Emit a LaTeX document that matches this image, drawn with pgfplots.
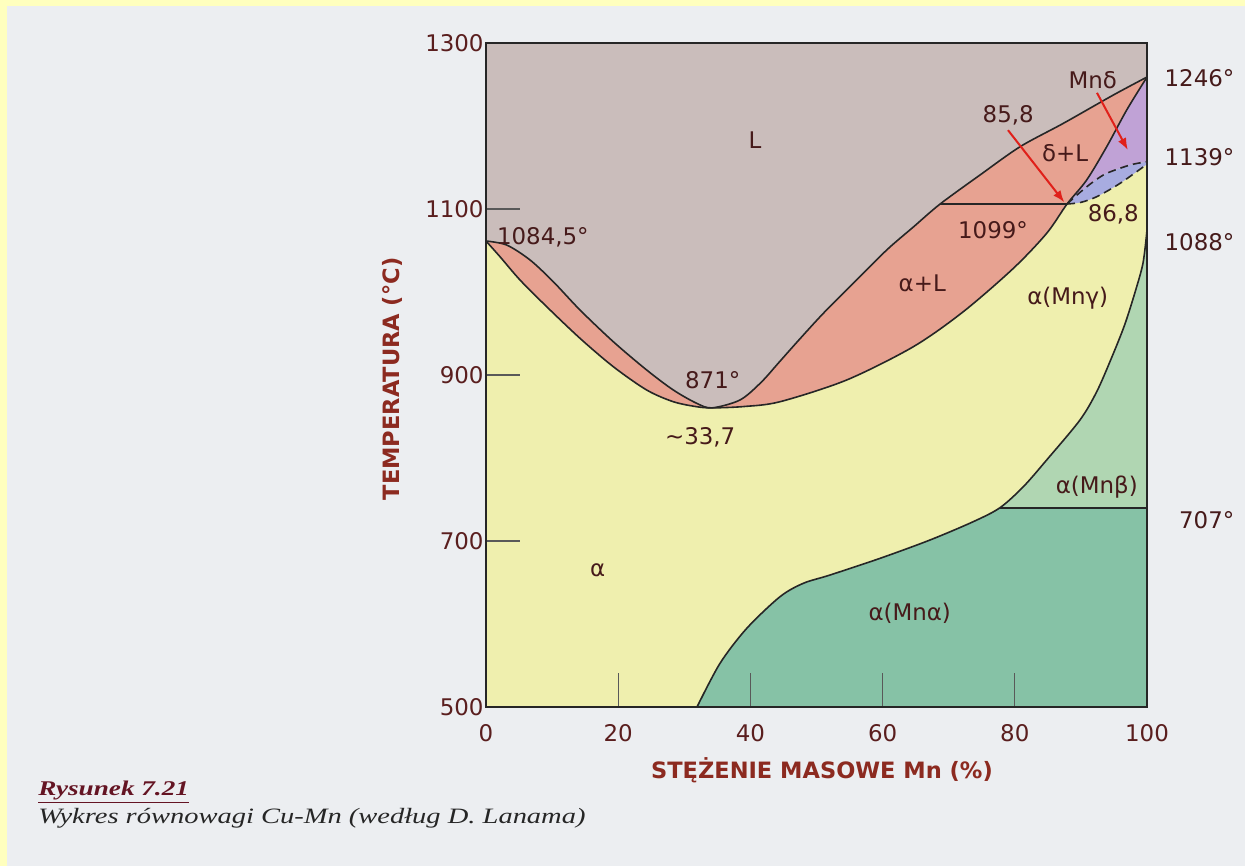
\documentclass[border=0pt]{standalone}
\usepackage{pgfplots}
\pgfplotsset{compat=1.18}
\usepgfplotslibrary{fillbetween}
\usetikzlibrary{arrows.meta}
\usepackage{fontspec}
\setmainfont{DejaVu Sans}
\newfontfamily\capfont[FakeStretch=1.3]{Liberation Serif}
\definecolor{bgc}{RGB}{236,238,241}
\definecolor{ybord}{RGB}{255,255,190}
\definecolor{cL}{RGB}{202,189,187}
\definecolor{cPink}{RGB}{231,162,145}
\definecolor{cYel}{RGB}{239,239,174}
\definecolor{cGl}{RGB}{176,214,178}
\definecolor{cGd}{RGB}{134,194,166}
\definecolor{cPur}{RGB}{192,162,214}
\definecolor{cBlu}{RGB}{168,172,224}
\definecolor{tickc}{RGB}{90,30,30}
\definecolor{labc}{RGB}{140,42,32}
\definecolor{txtc}{RGB}{70,26,26}
\definecolor{arr}{RGB}{224,32,26}
\definecolor{capc}{RGB}{100,20,35}
\tikzset{bnd/.style={draw=black!85, line width=0.8bp},
  lab/.style={font=\fontsize{11.5}{13}\selectfont, text=txtc}}
\pagecolor{bgc}
\begin{document}%
\begin{tikzpicture}
\path (0,0) rectangle (622.5bp,433bp);
\fill[ybord] (0,0) rectangle (3.5bp,433bp);
\fill[ybord] (0,430bp) rectangle (622.5bp,433bp);
\begin{axis}[
  at={(243bp,79.5bp)}, anchor=south west,
  scale only axis, width=330.5bp, height=332bp,
  xmin=0, xmax=100, ymin=500, ymax=1300,
  xtick={20,40,60,80}, ytick={700,900,1100},
  extra x ticks={0,100}, extra y ticks={500,1300},
  extra tick style={major tick length=0pt},
  tick align=inside, tick pos=left,
  major tick length=17bp,
  axis on top,
  tick style={black!65, line width=0.6bp},
  axis line style={line width=1bp, black!85},
  axis background/.style={fill=cYel},
  ticklabel style={font=\fontsize{11.5}{13}\selectfont, text=tickc},
  /pgf/number format/assume math mode=true,
  /pgf/number format/1000 sep={},
  xticklabel style={yshift=-5bp},
  yticklabel style={xshift=2.3bp},
  clip=false,
]
\addplot[draw=none, name path=top] coordinates {(0,1300) (100,1300)};
\addplot[draw=none, name path=bot] coordinates {(31.92,500) (100,500)};
% liquidus
\addplot[bnd, smooth, tension=0.5, name path=liq] coordinates {
 (0,1061.4) (3.13,1056.6) (6.66,1038.6) (10.18,1012.4) (14.22,978.3) (19.26,940.1)
 (24.31,906.0) (28.34,881.9) (31.87,865.9) (34.2,860.4) (38.43,869.9) (41.6,891.0)
 (44.3,915) (47.2,941) (51.03,974.3) (55.57,1010.5) (60.62,1050.6) (64.65,1078.3)
 (68.7,1106) (74.74,1141) (80.79,1175) (87.34,1203.2) (94.9,1237.3) (100,1259)};
% solidus (alpha and delta)
\addplot[bnd, smooth, tension=0.5, name path=sol] coordinates {
 (0,1061.4) (2.12,1042.5) (5.14,1014.5) (9.18,982.3) (14.22,944.2) (19.26,910.0)
 (24.31,881.9) (28.34,867.8) (31.87,861.8) (34.2,860.4) (39,862) (44.48,867.8)
 (54.57,894.0) (64.65,934.1) (72.21,976.3) (79.78,1028.5) (84.82,1070.7) (87.9,1106)
 (90.87,1134.9) (93.9,1175) (96.93,1219.3) (100,1259)};
\addplot[draw=none, smooth, tension=0.5, name path=dsol] coordinates {
 (87.9,1106) (90.87,1134.9) (93.9,1175) (96.93,1219.3) (100,1259)};
% dashed lens
\addplot[bnd, dash pattern=on 4bp off 2.5bp, smooth, tension=0.5, name path=up] coordinates {
 (87.9,1106) (89.86,1120) (91.9,1133) (93.9,1143) (97.43,1153) (100,1157)};
\addplot[bnd, dash pattern=on 4bp off 2.5bp, smooth, tension=0.5, name path=lo] coordinates {
 (87.9,1106) (90,1108) (92.39,1114.8) (95.92,1130.9) (100,1154)};
% alpha(Mn) boundary
\addplot[bnd, smooth, tension=0.5, name path=S] coordinates {
 (31.92,500) (35.4,552.6) (39.44,594.7) (44.48,632.9) (48.0,649) (52.04,659)
 (59.61,679.1) (67.17,701.2) (73.72,723.3) (77.76,740.1) (81.29,765.4) (84.82,797.6)
 (89.86,845.8) (92.4,880) (94.6,920) (96.6,960) (98.2,1000) (99.4,1035) (100,1074.7)};
\addplot[draw=none, smooth, tension=0.5, name path=Sb] coordinates {
 (77.76,740.1) (81.29,765.4) (84.82,797.6)
 (89.86,845.8) (92.4,880) (94.6,920) (96.6,960) (98.2,1000) (99.4,1035) (100,1074.7)};
\addplot[bnd, name path=l740] coordinates {(77.76,740.1) (100,740.1)};
\addplot[bnd] coordinates {(68.7,1106) (87.9,1106)};
% fills
\addplot[cPink] fill between[of=liq and sol];
\addplot[cL] fill between[of=liq and top];
\addplot[cPur] fill between[of=dsol and up];
\addplot[cBlu] fill between[of=up and lo];
\addplot[cGd] fill between[of=S and bot];
\addplot[cGl] fill between[of=Sb and l740];
% arrows
\addplot[arr, line width=1bp, -{Latex[length=6bp,width=4.5bp]}] coordinates {(78.97,1195) (87.5,1108)};
\addplot[arr, line width=1bp, -{Latex[length=6bp,width=4.5bp]}] coordinates {(92.43,1240) (97.1,1171)};
% labels
\node[lab] at (axis cs:40.7,1183) {L};
\node[lab] at (axis cs:79.0,1213) {85,8};
\node[lab] at (axis cs:91.8,1255) {Mnδ};
\node[lab] at (axis cs:87.6,1167) {δ+L};
\node[lab] at (axis cs:94.9,1093) {86,8};
\node[lab] at (axis cs:76.7,1075) {1099°};
\node[lab] at (axis cs:8.6,1066) {1084,5°};
\node[lab] at (axis cs:66,1011) {α+L};
\node[lab] at (axis cs:88,993) {α(Mnγ)};
\node[lab] at (axis cs:34.3,894) {871°};
\node[lab] at (axis cs:32.4,825) {\textasciitilde33,7};
\node[lab] at (axis cs:92.4,765) {α(Mnβ)};
\node[lab] at (axis cs:16.9,665) {α};
\node[lab] at (axis cs:64.1,613) {α(Mnα)};
\node[lab, anchor=west] at (axis cs:101.6,1258) {1246°};
\node[lab, anchor=west] at (axis cs:101.6,1162.7) {1139°};
\node[lab, anchor=west] at (axis cs:101.6,1060.2) {1088°};
\node[lab, anchor=west] at (axis cs:103.8,725.3) {707°};
\end{axis}
\node[font=\bfseries\fontsize{11.3}{13}\selectfont, text=labc, anchor=base] at (411bp,43.5bp) {STĘŻENIE MASOWE Mn (\%)};
\node[font=\bfseries\fontsize{11.3}{13}\selectfont, text=labc, rotate=90] at (196bp,243.5bp) {TEMPERATURA (°C)};
\node[anchor=base west, inner sep=0, text=capc, font={\capfont\bfseries\itshape\fontsize{10.5}{12}\selectfont}] at (19bp,35.5bp) {\underline{Rysunek 7.21}};
\node[anchor=base west, inner sep=0, text=black!85, font={\capfont\itshape\fontsize{11}{13}\selectfont}] at (19bp,21.5bp) {Wykres równowagi Cu-Mn (według D. Lanama)};
\end{tikzpicture}%
\end{document}
